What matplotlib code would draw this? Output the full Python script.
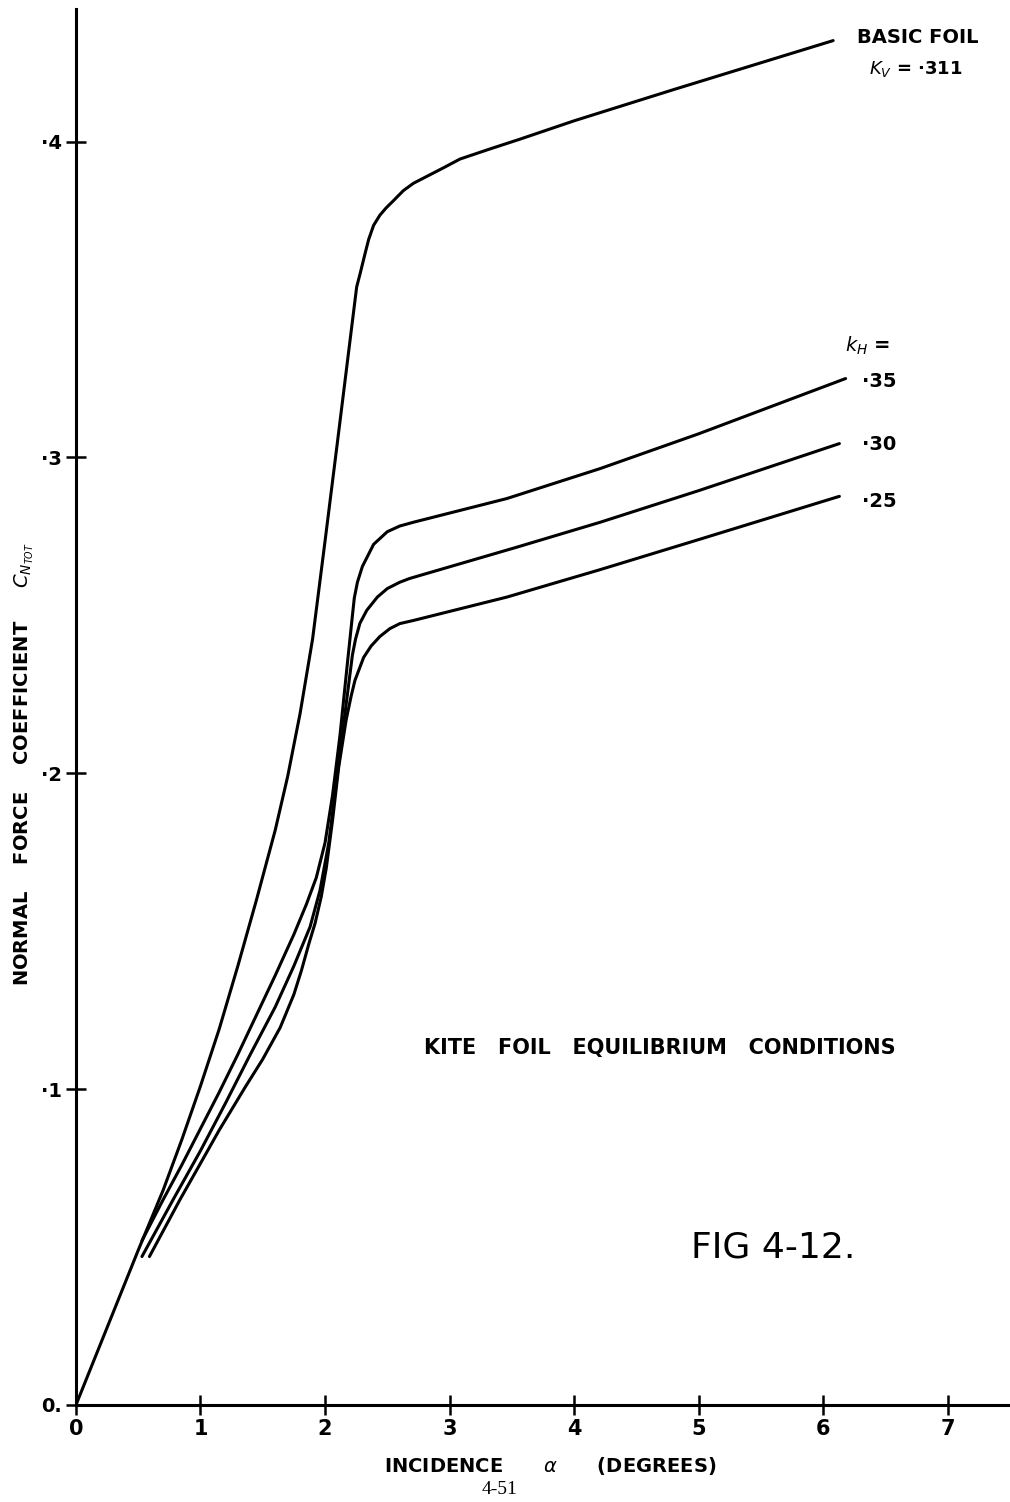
#!/usr/bin/env python3
"""
Kite foil equilibrium conditions (Fig 4-12)
Normal force coefficient vs incidence for the basic foil and three k_H values
"""

import matplotlib
matplotlib.use("Agg")
import matplotlib.pyplot as plt

# Basic foil, K_V = .311
basic_alpha = [0.0, 0.5, 0.7, 0.85, 1.0, 1.15, 1.3, 1.45, 1.6, 1.7, 1.8, 1.9,
               2.0, 2.1, 2.254, 2.281, 2.321, 2.35, 2.39, 2.44, 2.49, 2.549,
               2.629, 2.709, 2.817, 2.95, 3.084, 3.325, 3.566, 4.0, 4.8, 6.08]
basic_cn = [0.0, 0.049, 0.068, 0.084, 0.101, 0.119, 0.139, 0.160, 0.182, 0.199,
            0.219, 0.2425, 0.2735, 0.305, 0.354, 0.3581, 0.3645, 0.369,
            0.3735, 0.3767, 0.379, 0.3813, 0.3845, 0.3868, 0.389, 0.3917,
            0.3945, 0.3977, 0.4008, 0.4066, 0.4165, 0.432]

# k_H = .35
k35_alpha = [0.53, 0.70, 0.85, 1.0, 1.15, 1.3, 1.45, 1.6, 1.75, 1.85, 1.93,
             2.0, 2.06, 2.12, 2.18, 2.22, 2.235, 2.26, 2.30, 2.39, 2.50, 2.6,
             2.71, 3.46, 4.21, 5.0, 6.18]
k35_cn = [0.052, 0.065, 0.076, 0.0875, 0.099, 0.111, 0.1235, 0.136, 0.149,
          0.1585, 0.167, 0.178, 0.193, 0.212, 0.235, 0.250, 0.2555, 0.2605,
          0.2655, 0.2725, 0.2765, 0.2783, 0.2795, 0.287, 0.2965, 0.3075, 0.325]

# k_H = .30
k30_alpha = [0.53, 0.78, 1.0, 1.2, 1.4, 1.6, 1.75, 1.88, 1.96, 2.03, 2.10,
             2.17, 2.22, 2.245, 2.28, 2.335, 2.42, 2.50, 2.6, 2.68, 3.54,
             4.21, 5.0, 6.13]
k30_cn = [0.047, 0.065, 0.0805, 0.0955, 0.111, 0.126, 0.139, 0.1514, 0.163,
          0.178, 0.200, 0.222, 0.2375, 0.2425, 0.2475, 0.2516, 0.2558, 0.2585,
          0.2605, 0.2617, 0.2716, 0.2795, 0.2895, 0.3044]

# k_H = .25
k25_alpha = [0.59, 0.835, 1.0, 1.15, 1.36, 1.5, 1.64, 1.75, 1.81, 1.87, 1.92,
             1.97, 2.01, 2.06, 2.11, 2.17, 2.21, 2.24, 2.31, 2.37, 2.44, 2.52,
             2.60, 2.71, 3.46, 4.21, 5.0, 6.13]
k25_cn = [0.047, 0.065, 0.0765, 0.087, 0.1007, 0.1095, 0.1195, 0.130, 0.1375,
          0.146, 0.1525, 0.161, 0.170, 0.185, 0.202, 0.217, 0.2245, 0.2294,
          0.2367, 0.2403, 0.2433, 0.2458, 0.2474, 0.2484, 0.2558, 0.2645,
          0.274, 0.2877]

x_ticks = [0, 1, 2, 3, 4, 5, 6, 7]
x_tick_labels = ["0", "1", "2", "3", "4", "5", "6", "7"]
y_ticks = [0.0, 0.1, 0.2, 0.3, 0.4]
y_tick_labels = ["0.", "·1", "·2", "·3", "·4"]
kh_labels = ["·35", "·30", "·25"]


def main():
    fig = plt.figure(figsize=(10.10, 15.02), dpi=100)
    ax = fig.add_axes([0.0752, 0.0646, 0.9248, 0.9294])

    lw = 2.2
    for xs, ys in [(basic_alpha, basic_cn), (k35_alpha, k35_cn),
                   (k30_alpha, k30_cn), (k25_alpha, k25_cn)]:
        ax.plot(xs, ys, color="black", lw=lw, solid_joinstyle="round",
                solid_capstyle="round")

    ax.set_xlim(0, 7.5)
    ax.set_ylim(0, 0.442)

    # only the two drawn axes
    for side in ["top", "right"]:
        ax.spines[side].set_visible(False)
    for side in ["left", "bottom"]:
        ax.spines[side].set_linewidth(2.2)

    ax.set_xticks(x_ticks)
    ax.set_xticklabels(x_tick_labels, fontsize=15, fontweight="bold")
    ax.set_yticks(y_ticks)
    ax.set_yticklabels(y_tick_labels, fontsize=14, fontweight="bold")
    ax.tick_params(direction="inout", length=14, width=1.8, pad=3)

    # annotations
    ax.text(6.76, 0.433, "BASIC FOIL", fontsize=14, fontweight="bold",
            ha="center", va="center")
    ax.text(6.74, 0.423, r"$K_V$ = ·311", fontsize=13, fontweight="bold",
            ha="center", va="center")
    ax.text(6.36, 0.3354, r"$k_H$ =", fontsize=14, fontweight="bold",
            ha="center", va="center")
    for lab, yy in zip(kh_labels, [0.324, 0.304, 0.286]):
        ax.text(6.45, yy, lab, fontsize=14, fontweight="bold",
                ha="center", va="center")

    ax.text(4.69, 0.113, "KITE   FOIL   EQUILIBRIUM   CONDITIONS",
            fontsize=15, fontweight="bold", ha="center", va="center")
    ax.text(5.6, 0.05, "FIG 4-12.", fontsize=26, ha="center", va="center")

    fig.text(0.024, 0.491,
             r"NORMAL    FORCE    COEFFICIENT     $C_{N_{TOT}}$",
             rotation=90, fontsize=14, fontweight="bold",
             ha="center", va="center")
    fig.text(0.545, 0.024, r"INCIDENCE      $\alpha$      (DEGREES)",
             fontsize=14, fontweight="bold", ha="center", va="center")
    fig.text(0.495, 0.008, "4-51", fontsize=14, family="Liberation Serif",
             ha="center", va="center")

    fig.savefig("out.png", dpi=100)


if __name__ == "__main__":
    main()
